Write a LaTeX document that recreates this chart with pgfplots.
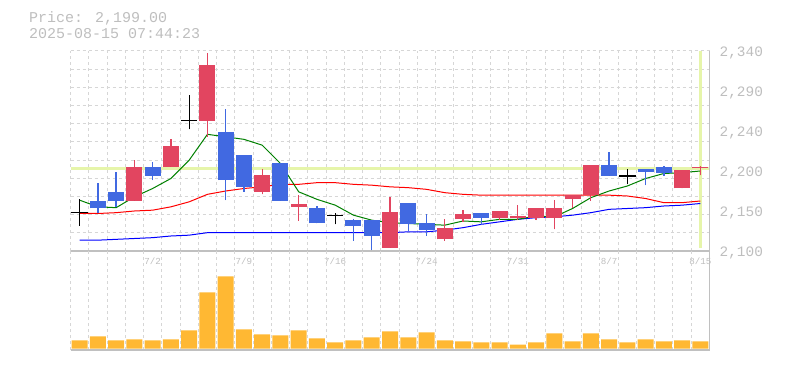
\documentclass[border=0pt]{standalone}
\usepackage{fontspec}
\usepackage{pgfplots}
\usepackage{pgfplotstable}
\pgfplotsset{compat=1.18}
\newfontfamily\monof{Liberation Mono}
\definecolor{upc}{RGB}{226,69,96}
\definecolor{dnc}{RGB}{65,105,225}
\definecolor{volc}{RGB}{255,184,51}
\definecolor{gridc}{RGB}{214,214,214}
\definecolor{axc}{RGB}{192,192,192}
\definecolor{txtc}{RGB}{190,190,190}
\definecolor{hlc}{RGB}{230,245,170}
\definecolor{ma5}{RGB}{0,128,0}
\pgfplotsset{nomark/.style={only marks, mark size=0pt, mark options={draw=none, fill=none}}}

% up candles (close > open)
\pgfplotstableread{
x open high low close
3 2160 2209 2160 2201
5 2201 2234 2201 2226
7 2256 2338 2237 2323
10 2171 2198 2168 2191
12 2153 2167 2136 2156
17 2104 2165 2104 2147
20 2114 2138 2112 2127
21 2138 2149 2135 2144
23 2140 2148 2137 2148
24 2139 2155 2137 2142
25 2139 2152 2137 2152
26 2139 2161 2126 2152
27 2162 2167 2151 2167
28 2167 2203 2160 2203
33 2175 2197 2175 2197
34 2199 2202 2191 2201
}\uptab

% down candles (close < open)
\pgfplotstableread{
x open high low close
1 2160 2181 2145 2151
2 2171 2195 2153 2160
4 2201 2207 2185 2190
8 2243 2270 2161 2185
9 2215 2215 2171 2177
11 2206 2206 2160 2160
13 2152 2154 2133 2133
15 2137 2138 2112 2130
16 2137 2137 2100 2118
18 2158 2158 2124 2132
19 2134 2144 2118 2125
22 2146 2146 2131 2140
29 2203 2219 2190 2190
31 2198 2198 2179 2195
32 2201 2202 2190 2194
}\dntab

% doji candles (close = open)
\pgfplotstableread{
x open high low close
0 2146 2162 2130 2146
6 2257 2287 2246 2257
14 2143 2145 2132 2143
30 2190 2198 2180 2190
}\dojitab

% moving averages
\pgfplotstableread{
x ma5 ma25 ma75
0 2161 2145 2113
1 2153 2145 2113
2 2152 2146 2114
3 2165 2148 2115
4 2175 2149 2116
5 2187 2153 2118
6 2209 2159 2119
7 2240 2168 2122
8 2237 2172 2122
9 2234 2175 2122
10 2227 2177 2122
11 2205 2180 2122
12 2171 2180 2122
13 2162 2182 2122
14 2155 2182 2122
15 2143 2180 2122
16 2137 2179 2122
17 2134 2177 2122
18 2133 2176 2123
19 2132 2174 2123
20 2131 2170 2125
21 2136 2168 2128
22 2135 2167 2132
23 2138 2167 2135
24 2138 2167 2138
25 2142 2167 2140
26 2141 2167 2141
27 2151 2167 2143
28 2164 2167 2146
29 2172 2167 2150
30 2178 2166 2151
31 2187 2163 2152
32 2193 2158 2154
33 2194 2158 2155
34 2196 2160 2157
}\matab

% volume
\pgfplotstableread{
x vol
0 8
1 12
2 8
3 9
4 8
5 9
6 18
7 56
8 72
9 19
10 14
11 13
12 18
13 10
14 6
15 8
16 11
17 17
18 11
19 16
20 8
21 7
22 6
23 6
24 4
25 6
26 15
27 7
28 15
29 9
30 6
31 9
32 7
33 8
34 7
}\voltab

\begin{document}
\begin{tikzpicture}
\path[use as bounding box] (0,0) rectangle (785pt,370pt);

\node[anchor=base west, inner sep=0pt, text=txtc, font=\monof\fontsize{15}{15}\selectfont] at (29pt,347.3pt) {Price: 2,199.00};
\node[anchor=base west, inner sep=0pt, text=txtc, font=\monof\fontsize{15}{15}\selectfont] at (29pt,331.7pt) {2025-08-15 07:44:23};

% ---------- price panel ----------
\begin{axis}[
  at={(70.5pt,119pt)}, anchor=south west,
  scale only axis, width=639pt, height=200pt,
  xmin=-0.5, xmax=34.5, ymin=2100, ymax=2340,
  axis line style={draw=none},
  xtick={-0.5,0.5,...,34.5}, xticklabels={},
  ytick={2100,2121.82,2143.64,2165.45,2187.27,2209.09,2230.91,2252.73,2274.55,2296.36,2318.18,2340},
  yticklabels={},
  major tick length=0pt,
  grid=major,
  major grid style={gridc, line width=1pt, dash pattern=on 3pt off 3pt},
  yticklabel pos=right,
  extra y ticks={2100,2148,2196,2244,2292,2340},
  extra y tick labels={{2,100},{2,150},{2,200},{2,240},{2,290},{2,340}},
  extra y tick style={grid=none, major tick length=0pt,
     yticklabel style={anchor=west, inner sep=0pt, xshift=10pt, yshift=-1.5pt,
       text=txtc, font=\monof\fontsize{14.4}{14.4}\selectfont}},
  extra x ticks={4,9,14,19,24,29,34},
  extra x tick labels={7/2,7/9,7/16,7/24,7/31,8/7,8/15},
  extra x tick style={grid=none, major tick length=0pt,
     xticklabel style={anchor=center, inner sep=0pt, yshift=-10pt,
       text=txtc, font=\monof\fontsize{9.2}{9.2}\selectfont}},
  clip=false,
]
% current price lines
\addplot[hlc, line width=3pt] coordinates {(-0.5,2199) (34.5,2199)};
\addplot[hlc, line width=3pt] coordinates {(34,2103.5) (34,2340)};

% moving averages
\addplot[blue, line width=1pt] table[x=x, y=ma75] {\matab};
\addplot[red, line width=1pt] table[x=x, y=ma25] {\matab};
\addplot[ma5, line width=1pt] table[x=x, y=ma5] {\matab};

% wicks
\addplot[nomark, error bars/.cd, y dir=plus, y explicit, error mark=none,
  error bar style={draw=upc, line width=1.3pt}]
  table[x=x, y=low, y error plus expr=\thisrow{high}-\thisrow{low}] {\uptab};
\addplot[nomark, error bars/.cd, y dir=plus, y explicit, error mark=none,
  error bar style={draw=dnc, line width=1.3pt}]
  table[x=x, y=low, y error plus expr=\thisrow{high}-\thisrow{low}] {\dntab};
\addplot[nomark, error bars/.cd, y dir=plus, y explicit, error mark=none,
  error bar style={draw=black, line width=1.3pt}]
  table[x=x, y=low, y error plus expr=\thisrow{high}-\thisrow{low}] {\dojitab};

% bodies
\addplot[nomark, error bars/.cd, y dir=plus, y explicit, error mark=none,
  error bar style={draw=upc, line width=16pt}]
  table[x=x, y=open, y error plus expr=\thisrow{close}-\thisrow{open}] {\uptab};
\addplot[nomark, error bars/.cd, y dir=plus, y explicit, error mark=none,
  error bar style={draw=dnc, line width=16pt}]
  table[x=x, y=close, y error plus expr=\thisrow{open}-\thisrow{close}] {\dntab};
\addplot[nomark, error bars/.cd, x dir=both, x fixed=0.45, error mark=none,
  error bar style={draw=black, line width=1.3pt}]
  table[x=x, y=close] {\dojitab};

\draw[axc, line width=1.2pt] (rel axis cs:0,0) -- (rel axis cs:1,0) -- (rel axis cs:1,1);
\end{axis}

% ---------- volume panel ----------
\begin{axis}[
  at={(70.5pt,20pt)}, anchor=south west,
  scale only axis, width=639pt, height=98.5pt,
  xmin=-0.5, xmax=34.5, ymin=-1.5, ymax=97,
  axis line style={draw=none},
  xtick={-0.5,0.5,...,34.5}, xticklabels={},
  ytick=\empty,
  major tick length=0pt,
  xmajorgrids,
  major grid style={gridc, line width=1pt, dash pattern=on 3pt off 3pt},
  clip=false,
]
\addplot[ybar, bar width=16pt, fill=volc, draw=none] table[x=x, y=vol] {\voltab};
\draw[axc, line width=1.2pt] (rel axis cs:0,0) -- (rel axis cs:1,0) -- (rel axis cs:1,1);
\end{axis}
\end{tikzpicture}
\end{document}
